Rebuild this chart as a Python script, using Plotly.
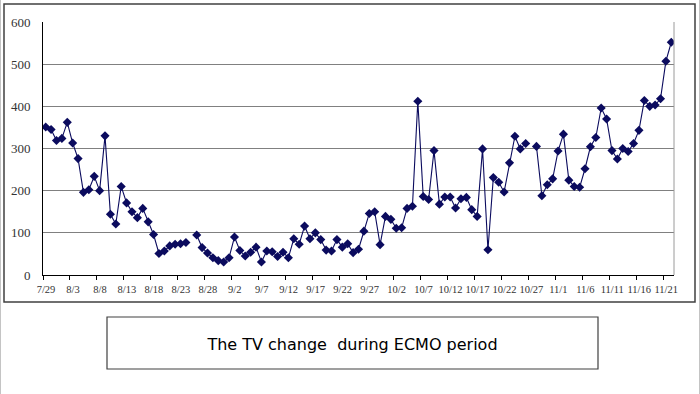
import plotly.graph_objects as go

# ---- data ----
TICK_LABELS = ["7/29", "8/3", "8/8", "8/13", "8/18", "8/23", "8/28", "9/2", "9/7",
               "9/12", "9/17", "9/22", "9/27", "10/2", "10/7", "10/12", "10/17",
               "10/22", "10/27", "11/1", "11/6", "11/11", "11/16", "11/21"]

TV = [351, 345, 319, 324, 362, 313, 276, 196, 202, 234,
      200, 330, 144, 121, 210, 171, 150, 136, 158, 126,
      96, 51, 57, 69, 73, 74, 77, None, 95, 65,
      52, 41, 34, 31, 41, 90, 58, 45, 54, 66,
      31, 57, 55, 44, 54, 41, 86, 73, 116, 86,
      100, 84, 59, 57, 84, 66, 74, 53, 61, 104,
      146, 150, 72, 139, 132, 111, 112, 158, 163, 412,
      186, 179, 295, 168, 185, 185, 159, 181, 184, 155,
      139, 299, 60, 231, 220, 197, 266, 329, 299, 312,
      None, 305, 188, 214, 228, 294, 334, 225, 210, 208,
      252, 304, 326, 396, 370, 295, 275, 300, 293, 312,
      343, 414, 400, 403, 418, 507, 552]

DAY_INDEX = list(range(len(TV)))
TITLE_TEXT = "The TV change\u00a0 during ECMO period"

# ---- layout geometry ----
W, H = 700, 394
L, R, T, B = 43, 26, 22, 119
PW, PH = W - L - R, H - T - B


def px_x(x):
    return (x - L) / PW


def px_y(y):
    return (H - B - y) / PH


NAVY = "#0b0b5e"

fig = go.Figure()
fig.add_trace(go.Scatter(
    x=DAY_INDEX, y=TV, mode="lines+markers",
    line=dict(color=NAVY, width=1.1),
    marker=dict(symbol="diamond", size=7, color=NAVY),
    connectgaps=False, showlegend=False, hoverinfo="skip",
))

spacing_px = PW / len(TV)
tickvals = [i * 5 - 0.5 for i in range(len(TICK_LABELS))]

fig.update_xaxes(
    range=[-0.5, len(TV) - 0.5], automargin=False,
    tickmode="array", tickvals=tickvals, ticktext=TICK_LABELS,
    ticklabelshift=int(round(spacing_px / 2)),
    ticks="outside", ticklen=4, tickcolor="black", tickwidth=1,
    showline=True, linecolor="black", linewidth=1,
    showgrid=False, zeroline=False,
    tickfont=dict(family="Liberation Serif", size=10.5, color="#333333"),
)
fig.update_yaxes(
    range=[0, 600], dtick=100, tick0=0, automargin=False,
    showline=True, linecolor="black", linewidth=1,
    showgrid=True, gridcolor="#808080", gridwidth=1.2,
    zeroline=False, ticks="",
    ticklabelstandoff=9,
    tickfont=dict(family="Liberation Serif", size=13, color="#333333"),
)

shapes = [
    # plot area right border
    dict(type="line", xref="paper", yref="paper", x0=1, x1=1, y0=0, y1=1,
         line=dict(color="#9a9a9a", width=1)),
    # outer chart frame
    dict(type="rect", xref="paper", yref="paper",
         x0=px_x(4), x1=px_x(695), y0=px_y(302), y1=px_y(4),
         line=dict(color="#404040", width=1.5)),
    # page edges
    dict(type="line", xref="paper", yref="paper",
         x0=px_x(0.5), x1=px_x(0.5), y0=px_y(394), y1=px_y(0),
         line=dict(color="#c4c4c4", width=1)),
    dict(type="line", xref="paper", yref="paper",
         x0=px_x(699.5), x1=px_x(699.5), y0=px_y(394), y1=px_y(0),
         line=dict(color="#c4c4c4", width=1)),
    # caption box with its text
    dict(type="rect", xref="paper", yref="paper",
         x0=px_x(107), x1=px_x(598), y0=px_y(369), y1=px_y(317),
         line=dict(color="#404040", width=1.2),
         label=dict(text=TITLE_TEXT, textposition="middle center",
                    font=dict(family="DejaVu Sans", size=16, color="black"))),
]

fig.update_layout(
    width=W, height=H,
    margin=dict(l=L, r=R, t=T, b=B, pad=0, autoexpand=False),
    paper_bgcolor="white", plot_bgcolor="white",
    shapes=shapes,
)

fig.write_html(
    "out.html",
    config={"displayModeBar": False, "staticPlot": True},
    post_script="document.body.style.margin='0';document.body.style.overflow='hidden';",
)
